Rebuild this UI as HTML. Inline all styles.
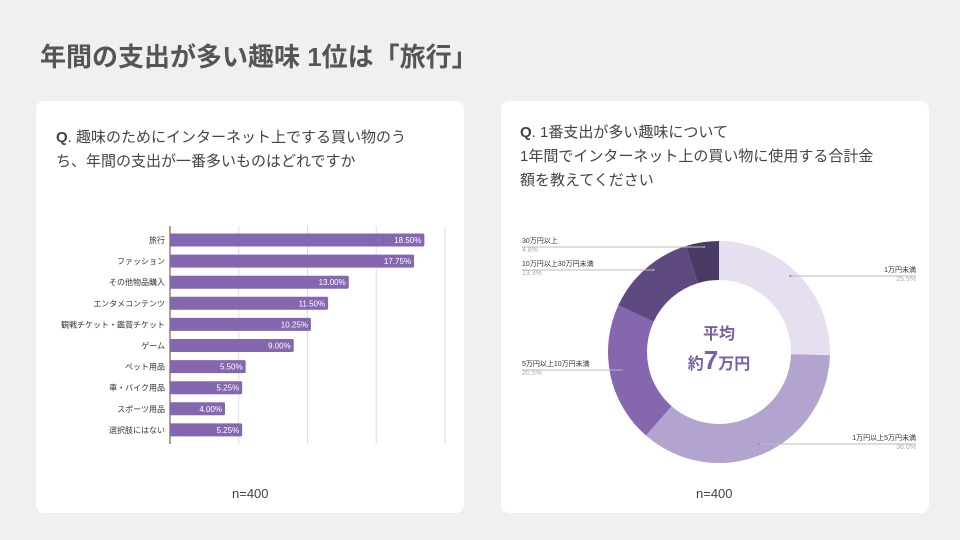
<!DOCTYPE html>
<html><head><meta charset="utf-8"><style>
body{margin:0;width:960px;height:540px;background:#f0f0f0;font-family:"Liberation Sans","Noto Sans CJK JP",sans-serif;position:relative;overflow:hidden;color:#444}
.card{position:absolute;top:101px;width:428px;height:412px;background:#fff;border-radius:8px}
h1{position:absolute;left:40px;top:37px;margin:0;font-size:26px;font-weight:bold;color:#555}
.q{position:absolute;font-size:15px;line-height:24px;color:#444}
.n{position:absolute;font-size:13px;color:#444}
</style></head><body>
<h1>年間の支出が多い趣味 1位は「旅行」</h1>
<div class="card" style="left:36px"></div>
<div class="card" style="left:501px"></div>
<div class="q" style="left:56px;top:126px"><b>Q</b>. 趣味のためにインターネット上でする買い物のう<br>ち、年間の支出が一番多いものはどれですか</div>
<div class="q" style="left:520px;top:121px"><b>Q</b>. 1番支出が多い趣味について<br>1年間でインターネット上の買い物に使用する合計金<br>額を教えてください</div>
<div class="n" style="left:232px;top:486px">n=400</div>
<div class="n" style="left:696px;top:486px">n=400</div>
<svg id="s" width="960" height="540" style="position:absolute;left:0;top:0"></svg>
<script>
const categories=["旅行","ファッション","その他物品購入","エンタメコンテンツ","観戦チケット・鑑賞チケット","ゲーム","ペット用品","車・バイク用品","スポーツ用品","選択肢にはない"];
const values=[18.5,17.75,13.0,11.5,10.25,9.0,5.5,5.25,4.0,5.25];
const gridTicks=[0,5,10,15,20];
const sliceLabels=["1万円未満","1万円以上5万円未満","5万円以上10万円未満","10万円以上30万円未満","30万円以上"];
const sliceValues=[25.5,36.0,20.5,13.3,4.8];
const NS="http://www.w3.org/2000/svg",s=document.getElementById('s');
function mk(t,a,txt){const e=document.createElementNS(NS,t);for(const k in a)e.setAttribute(k,a[k]);if(txt!=null)e.textContent=txt;s.appendChild(e);return e;}
const x=v=>170+v*13.75, y=i=>240+i*21.1;
gridTicks.forEach(t=>{const g=mk('line',{x1:x(t),x2:x(t),y1:226,y2:444,stroke:t==0?'#444':'#ddd','stroke-width':1});

});
categories.forEach((c,i)=>{
const l=mk('text',{x:165,y:y(i)+3,'text-anchor':'end','font-size':8,fill:'#333'},c);


const b=mk('rect',{x:x(0),y:y(i)-6.5,width:x(values[i])-x(0),height:13,rx:1.5,fill:'#8467ae'});


const v=mk('text',{x:x(values[i])-3,y:y(i)+3,'text-anchor':'end','font-size':8,fill:'#fff'},values[i].toFixed(2)+'%');


});
const cx=719,cy=352,R=111,r=72,cols=['#e6dff0','#b3a3cf','#8467ae','#5e4a80','#4a3b66'];
const tot=sliceValues.reduce((a,b)=>a+b,0);let a0=0;
const lblPos=[[916,272,'end'],[916,440,'end'],[522,366,'start'],[522,266,'start'],[522,243,'start']];
sliceValues.forEach((v,i)=>{
const a1=a0+v/tot*2*Math.PI;
const P=(rr,a)=>[cx+rr*Math.sin(a),cy-rr*Math.cos(a)];
const [x1,y1]=P(R,a0),[x2,y2]=P(R,a1),[x3,y3]=P(r,a1),[x4,y4]=P(r,a0);const lg=a1-a0>Math.PI?1:0;
const p=mk('path',{d:`M${x1},${y1}A${R},${R} 0 ${lg} 1 ${x2},${y2}L${x3},${y3}A${r},${r} 0 ${lg} 0 ${x4},${y4}Z`,fill:cols[i]});


const [mx]=P((R+r)/2+8,(a0+a1)/2);const [lx,ly,an]=lblPos[i];
const ln=mk('line',{x1:lx,y1:ly+4,x2:mx,y2:ly+4,stroke:'#bbb','stroke-width':1});


mk('circle',{cx:mx,cy:ly+4,r:1.2,fill:'#999'});
const t=mk('text',{x:lx,y:ly,'text-anchor':an,'font-size':7,fill:'#333'},sliceLabels[i]);


const t2=mk('text',{x:lx,y:ly+9,'text-anchor':an,'font-size':7,fill:'#aaa'},v.toFixed(1)+'%');


a0=a1;});
const c1=mk('text',{x:cx,y:339,'text-anchor':'middle','font-size':16,'font-weight':'bold',fill:'#7a5ea8'},'平均');


const c2=mk('text',{x:cx,y:369,'text-anchor':'middle','font-size':16,'font-weight':'bold',fill:'#7a5ea8'});
c2.innerHTML='約<tspan font-size="26">7</tspan>万円';


</script>
</body></html>
